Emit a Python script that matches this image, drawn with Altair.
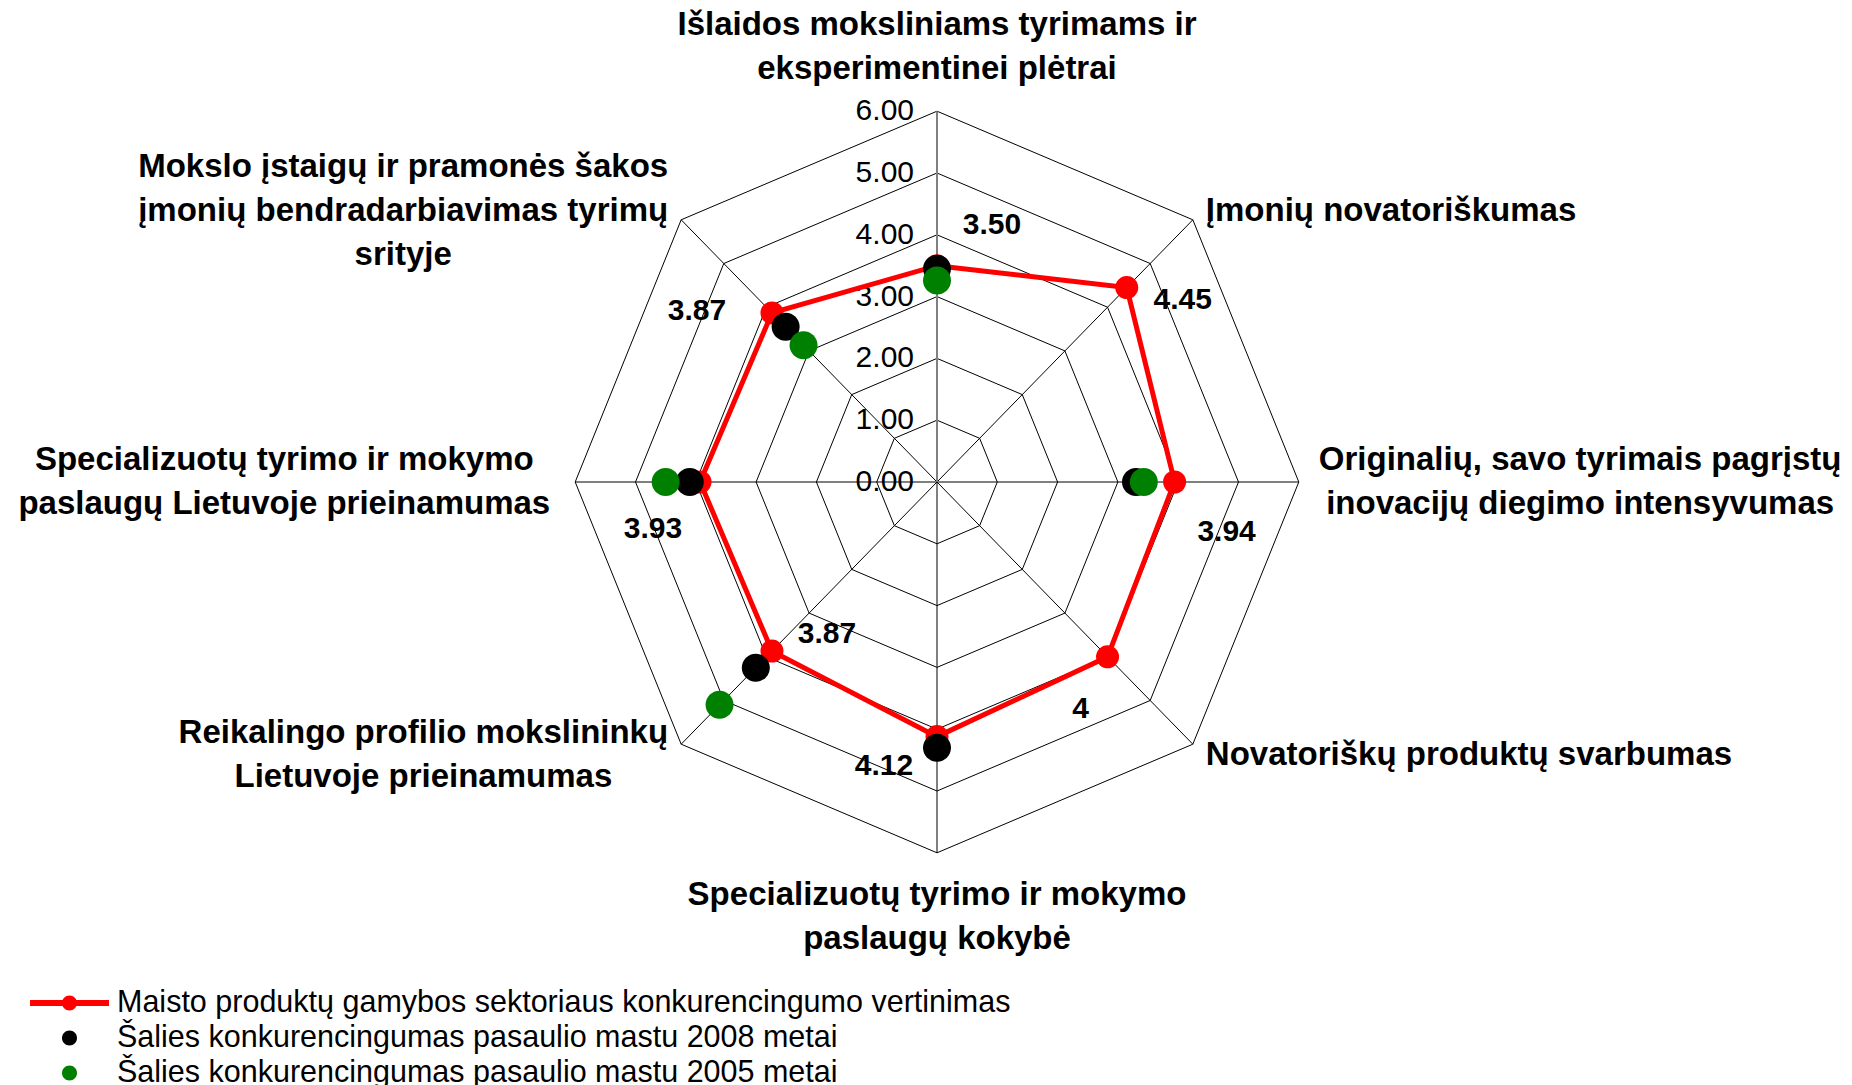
import math
import unicodedata
import altair as alt
import pandas as pd

# ---------------- data ----------------
CATEGORY_LINES = [
    ["Išlaidos moksliniams tyrimams ir", "eksperimentinei plėtrai"],
    ["Įmonių novatoriškumas"],
    ["Originalių, savo tyrimais pagrįstų", "inovacijų diegimo intensyvumas"],
    ["Novatoriškų produktų svarbumas"],
    ["Specializuotų tyrimo ir mokymo", "paslaugų kokybė"],
    ["Reikalingo profilio mokslininkų", "Lietuvoje prieinamumas"],
    ["Specializuotų tyrimo ir mokymo", "paslaugų Lietuvoje prieinamumas"],
    ["Mokslo įstaigų ir pramonės šakos", "įmonių bendradarbiavimas tyrimų", "srityje"],
]
SERIES = [
    "Maisto produktų gamybos sektoriaus konkurencingumo vertinimas",
    "Šalies konkurencingumas pasaulio mastu 2008 metai",
    "Šalies konkurencingumas pasaulio mastu 2005 metai",
]
SECTOR = [3.50, 4.45, 3.94, 4.00, 4.12, 3.87, 3.93, 3.87]
SECTOR_TEXT = ["3.50", "4.45", "3.94", "4", "4.12", "3.87", "3.93", "3.87"]
COUNTRY_2008 = [3.45, None, 3.30, None, 4.30, 4.25, 4.10, 3.55]
COUNTRY_2005 = [3.26, None, 3.43, None, None, 5.10, 4.50, 3.13]
TICKS = [0, 1, 2, 3, 4, 5, 6]

# ---------------- style / layout ----------------
COLORS = ["#ff0000", "#000000", "#008000"]
FONT = "Liberation Sans"
W, H = 1836, 1077
CX, CY = 929.0, 474.0          # centre of the radar inside the plot, px
PXX, PXY = 60.3, 61.8          # px per unit
N = len(CATEGORY_LINES)
RMAX = TICKS[-1]
# pixel nudges of the value labels (x right, y down)
NUDGE = [(55, -41), (56, 12), (52, 50), (-27, 52), (-53, 29), (55, -17), (-47, 47), (-75, -2)]

RED_PATH = ("M-1,-0.076L1,-0.076L1,0.076L-1,0.076Z"
            "M0.19,0A0.19,0.19 0 1,1 -0.19,0A0.19,0.19 0 1,1 0.19,0Z")
DOT_PATH = "M0.19,0A0.19,0.19 0 1,1 -0.19,0A0.19,0.19 0 1,1 0.19,0Z"

xs = alt.Scale(domain=[-CX / PXX, (W - CX) / PXX], nice=False, zero=False)
ys = alt.Scale(domain=[-(H - CY) / PXY, CY / PXY], nice=False, zero=False)


def X(f):
    return alt.X(f"{f}:Q", scale=xs, axis=None)


def Y(f):
    return alt.Y(f"{f}:Q", scale=ys, axis=None)


ANG = f"(2*PI*datum.i/{N})"

# ---- Arial-bold width estimate for label block placement ----
AB = {" ": 278, ",": 278, ".": 278, "a": 556, "b": 611, "c": 556, "d": 611, "e": 556,
      "f": 333, "g": 611, "h": 611, "i": 278, "j": 278, "k": 556, "l": 278, "m": 889,
      "n": 611, "o": 611, "p": 611, "q": 611, "r": 389, "s": 556, "t": 333, "u": 611,
      "v": 556, "w": 778, "x": 556, "y": 556, "z": 500, "I": 278, "M": 833, "O": 778,
      "N": 722, "S": 667, "R": 722, "L": 611}


def text_width(s, size):
    tot = 0
    for ch in s:
        b = unicodedata.normalize("NFD", ch)[0]
        tot += AB.get(b, 600)
    return tot / 1000.0 * size


CAT_SIZE = 33
LH = 44
cat_rows = []
for i, lines in enumerate(CATEGORY_LINES):
    a = 2 * math.pi * i / N
    s, c = math.sin(a), math.cos(a)
    n = len(lines)
    w = max(text_width(l, CAT_SIZE) for l in lines)
    if abs(s) < 0.1:
        ox = 0.0
        first = -(42.5 + (n - 1) * LH) if c > 0 else 42
    elif abs(c) < 0.1:
        ox = math.copysign((20 if s > 0 else 25) + w / 2, s)
        first = -(n - 1) * LH / 2
    else:
        ox = math.copysign(13 + w / 2, s)
        first = (-9 if c > 0 else 11) - (n - 1) * LH / 2
    for j, line in enumerate(lines):
        cat_rows.append({"i": i, "text": line, "ox": ox, "oy": first + j * LH})
cat_df = pd.DataFrame(cat_rows)

# ---------------- layers ----------------
ring_df = pd.DataFrame([{"ring": r, "i": i} for r in TICKS[1:] for i in range(N)])
rings = alt.Chart(ring_df).mark_line(
    color="black", strokeWidth=1, interpolate="linear-closed"
).transform_calculate(
    x=f"datum.ring*sin({ANG})", y=f"datum.ring*cos({ANG})"
).encode(x=X("x"), y=Y("y"), detail="ring:N", order="i:Q")

spoke_df = pd.DataFrame({"i": list(range(N))})
spoke_base = alt.Chart(spoke_df).transform_calculate(
    x0="0", y0="0", x=f"{RMAX}*sin({ANG})", y=f"{RMAX}*cos({ANG})"
)
spokes = spoke_base.mark_rule(color="black", strokeWidth=1).transform_filter(
    "datum.i != 0"
).encode(x=X("x0"), y=Y("y0"), x2="x:Q", y2="y:Q")
spoke0 = spoke_base.mark_rule(color="#808080", strokeWidth=2).transform_filter(
    "datum.i == 0"
).encode(x=X("x0"), y=Y("y0"), x2="x:Q", y2="y:Q")

tick_df = pd.DataFrame({"v": TICKS})
ticks = alt.Chart(tick_df).mark_text(
    align="right", baseline="middle", dx=-23, font=FONT, fontSize=30, color="black"
).transform_calculate(x0="0").encode(
    x=X("x0"), y=Y("v"), text=alt.Text("v:Q", format=".2f")
)

sector_df = pd.DataFrame({
    "i": list(range(N)), "v": SECTOR, "label": SECTOR_TEXT,
    "nx": [p[0] for p in NUDGE], "ny": [p[1] for p in NUDGE],
})
sector_base = alt.Chart(sector_df).transform_calculate(
    x=f"datum.v*sin({ANG})", y=f"datum.v*cos({ANG})"
)
red_line = sector_base.mark_line(
    color=COLORS[0], strokeWidth=5, interpolate="linear-closed"
).encode(x=X("x"), y=Y("y"), order="i:Q")
red_pts = sector_base.mark_point(
    filled=True, color=COLORS[0], size=529, opacity=1, shape="circle", strokeWidth=0
).encode(x=X("x"), y=Y("y"))
red_labels = sector_base.transform_calculate(
    lx=f"datum.x + datum.nx/{PXX}", ly=f"datum.y - datum.ny/{PXY}"
).mark_text(
    align="center", baseline="middle", font=FONT, fontSize=30, fontWeight="bold", color="black"
).encode(x=X("lx"), y=Y("ly"), text="label:N")

c_rows = []
for sname, vals in ((SERIES[1], COUNTRY_2008), (SERIES[2], COUNTRY_2005)):
    for i, v in enumerate(vals):
        if v is not None:
            c_rows.append({"series": sname, "i": i, "v": v})
country_df = pd.DataFrame(c_rows)

LEG = alt.Legend(
    title=None, orient="none", legendX=22, legendY=980, symbolSize=6241,
    labelFont=FONT, labelFontSize=30.5, labelColor="black", labelOffset=8,
    labelLimit=1500, rowPadding=4, padding=0, symbolStrokeWidth=0, clipHeight=30,
)
country = alt.Chart(country_df).transform_calculate(
    x=f"datum.v*sin({ANG})", y=f"datum.v*cos({ANG})"
).mark_point(filled=True, size=21720, opacity=1, strokeWidth=0).encode(
    x=X("x"), y=Y("y"),
    color=alt.Color("series:N", scale=alt.Scale(domain=SERIES, range=COLORS), legend=LEG),
    shape=alt.Shape("series:N", scale=alt.Scale(domain=SERIES, range=[RED_PATH, DOT_PATH, DOT_PATH]), legend=LEG),
)

cat_labels = alt.Chart(cat_df).transform_calculate(
    lx=f"{RMAX}*sin({ANG}) + datum.ox/{PXX}",
    ly=f"{RMAX}*cos({ANG}) - datum.oy/{PXY}",
).mark_text(
    align="center", baseline="middle", font=FONT, fontSize=CAT_SIZE,
    fontWeight="bold", color="black"
).encode(x=X("lx"), y=Y("ly"), text="text:N")

chart = alt.layer(
    rings, spokes, spoke0, ticks, red_line, red_pts, country, red_labels, cat_labels
).properties(
    width=W, height=H, padding=0,
    autosize=alt.AutoSizeParams(type="none"),
    background="white",
).configure_view(stroke=None)

chart.save("out.html", embed_options={"renderer": "svg", "actions": False})
